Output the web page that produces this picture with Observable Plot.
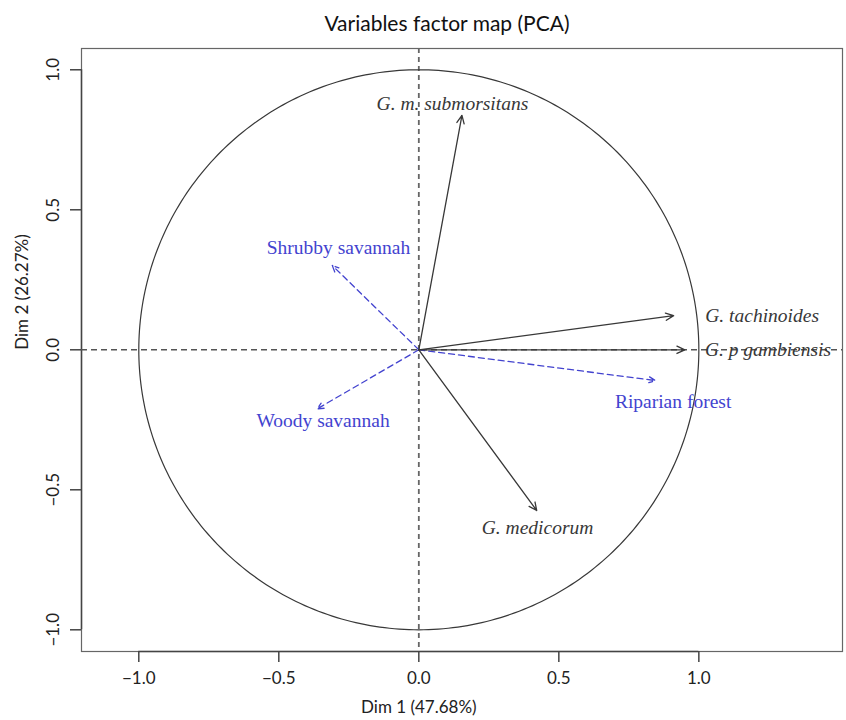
<!DOCTYPE html>
<html>
<head>
<meta charset="utf-8">
<script src="https://cdn.jsdelivr.net/npm/d3@7"></script>
<script src="https://cdn.jsdelivr.net/npm/@observablehq/plot@0.6"></script>
<style>
  body { margin: 0; background: #fff; }
  #wrap { position: relative; width: 846px; }
  #title { position: relative; height: 40px; }
  #title span { position: absolute; left: 447px; top: 22px; transform: translate(-50%, -50%);
    font-family: Lato, sans-serif; font-size: 21px; color: #111; white-space: nowrap; }
</style>
</head>
<body>
<div id="wrap">
  <div id="title"><span>Variables factor map (PCA)</span></div>
  <div id="chart"></div>
</div>
<script>
// Active variables (species)
const speciesNames = ["G. m. submorsitans", "G. tachinoides", "G. p gambiensis", "G. medicorum"];
const speciesDim1 = [0.154, 0.910, 0.950, 0.421];
const speciesDim2 = [0.837, 0.122, 0.000, -0.574];
const speciesLabelDim1 = [0.120, 1.226, 1.247, 0.424];
const speciesLabelDim2 = [0.880, 0.1225, 0.000, -0.637];

// Supplementary variables (habitats)
const habitatNames = ["Shrubby savannah", "Woody savannah", "Riparian forest"];
const habitatDim1 = [-0.309, -0.363, 0.845];
const habitatDim2 = [0.301, -0.211, -0.110];
const habitatLabelDim1 = [-0.287, -0.342, 0.908];
const habitatLabelDim2 = [0.366, -0.2525, -0.187];

const xTicks = [-1, -0.5, 0, 0.5, 1];
const yTicks = [-1, -0.5, 0, 0.5, 1];
const xLabel = "Dim 1 (47.68%)";
const yLabel = "Dim 2 (26.27%)";
const xDomain = [-1.2046, 1.513];
const yDomain = [-1.0775, 1.076];

const species = speciesNames.map((name, i) => ({name, d1: speciesDim1[i], d2: speciesDim2[i], l1: speciesLabelDim1[i], l2: speciesLabelDim2[i]}));
const habitats = habitatNames.map((name, i) => ({name, d1: habitatDim1[i], d2: habitatDim2[i], l1: habitatLabelDim1[i], l2: habitatLabelDim2[i]}));

// unit correlation circle
const circle = d3.range(0, 361).map(a => ({cx: Math.cos(a * Math.PI / 180), cy: Math.sin(a * Math.PI / 180)}));

const fmt = d3.format(".1f");
const dark = "#383838";
const blue = "#4343cf";
const serif = "'Liberation Serif', 'Times New Roman', serif";

const chart = Plot.plot({
  width: 846,
  height: 680,
  marginTop: 8,
  marginBottom: 69,
  marginLeft: 81,
  marginRight: 4,
  x: {domain: xDomain},
  y: {domain: yDomain},
  style: {fontFamily: "Lato, sans-serif", fontSize: "17px", color: "#222", background: "#fff"},
  marks: [
    Plot.frame({stroke: "#666", strokeWidth: 1.2}),
    Plot.ruleY([yDomain[0]], {x1: () => xTicks[0], x2: () => xTicks[xTicks.length - 1], stroke: "#444", strokeWidth: 1.5}),
    Plot.ruleX([xDomain[0]], {y1: () => yTicks[0], y2: () => yTicks[yTicks.length - 1], stroke: "#444", strokeWidth: 1.5}),
    Plot.axisX({ticks: xTicks, tickSize: 11, tickPadding: 9, tickFormat: fmt, stroke: "#444", strokeWidth: 1.5, fontSize: 17}),
    Plot.axisY({ticks: yTicks, tickSize: 11, tickPadding: 12, tickRotate: -90, tickFormat: fmt, stroke: "#444", strokeWidth: 1.5, fontSize: 17}),
    Plot.text([xLabel], {x: () => 0, frameAnchor: "bottom", dy: 61, text: d => d, fontSize: 17}),
    Plot.text([yLabel], {y: () => 0, frameAnchor: "left", dx: -59, rotate: -90, text: d => d, fontSize: 17}),
    Plot.ruleY([0], {stroke: "#555", strokeWidth: 1.5, strokeDasharray: "6,4"}),
    Plot.ruleX([0], {stroke: "#666", strokeWidth: 1.8, strokeDasharray: "5,4"}),
    Plot.line(circle, {x: "cx", y: "cy", stroke: dark, strokeWidth: 1.2}),
    Plot.arrow(habitats, {x1: () => 0, y1: () => 0, x2: "d1", y2: "d2", stroke: blue, strokeWidth: 1.3, strokeDasharray: "6,4", headLength: 8, headAngle: 50}),
    Plot.arrow(species, {x1: () => 0, y1: () => 0, x2: "d1", y2: "d2", stroke: dark, strokeWidth: 1.3, headLength: 10, headAngle: 50}),
    Plot.text(species, {x: "l1", y: "l2", text: "name", fill: dark, fontFamily: serif, fontStyle: "italic", fontSize: 19.5, textAnchor: "middle"}),
    Plot.text(habitats, {x: "l1", y: "l2", text: "name", fill: blue, fontFamily: serif, fontSize: 19.5, textAnchor: "middle"})
  ]
});
document.getElementById("chart").appendChild(chart);
</script>
</body>
</html>
